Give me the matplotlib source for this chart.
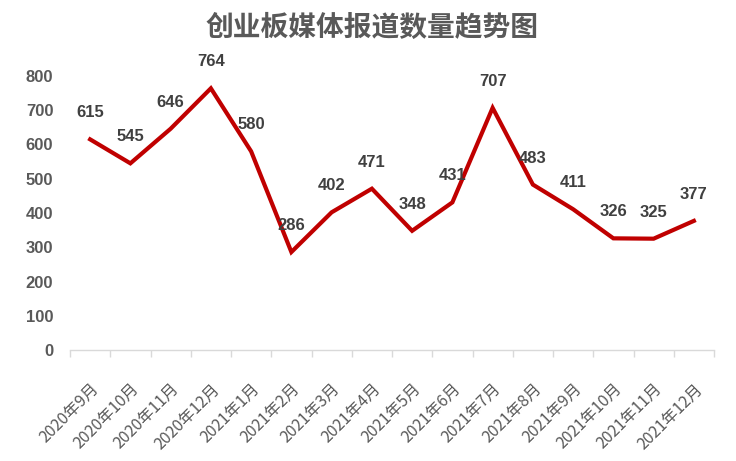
import matplotlib
matplotlib.use("Agg")
import matplotlib.pyplot as plt

plt.rcParams['font.family'] = ['Noto Sans CJK SC', 'DejaVu Sans']

months = ['2020年9月', '2020年10月', '2020年11月', '2020年12月',
          '2021年1月', '2021年2月', '2021年3月', '2021年4月',
          '2021年5月', '2021年6月', '2021年7月', '2021年8月',
          '2021年9月', '2021年10月', '2021年11月', '2021年12月']
counts = [615, 545, 646, 764, 580, 286, 402, 471,
          348, 431, 707, 483, 411, 326, 325, 377]
yticks = [0, 100, 200, 300, 400, 500, 600, 700, 800]

fig = plt.figure(figsize=(7.36, 4.61), dpi=100)
ax = fig.add_axes([70/736, 1 - 350/461, 644/736, 274/461])

x = list(range(len(months)))
ax.plot(x, counts, color='#C00000', linewidth=3, solid_joinstyle='miter', zorder=3)

for xi, v in zip(x, counts):
    ax.annotate(str(v), (xi, v), xytext=(0, 19), textcoords='offset points',
                ha='center', va='center', fontsize=12, fontweight='bold',
                color='#404040', family=['Liberation Sans', 'DejaVu Sans'],
                annotation_clip=False)

ax.set_xlim(-0.5, len(months) - 0.5)
ax.set_ylim(0, 800)
ax.set_yticks(yticks)
ax.set_yticklabels([str(t) for t in yticks], fontsize=12, fontweight='bold',
                   color='#595959', family=['Liberation Sans', 'DejaVu Sans'])
ax.tick_params(axis='y', length=0, pad=12)

ax.set_xticks([i - 0.5 for i in range(len(months) + 1)], minor=False)
ax.set_xticklabels([])
ax.set_xticks(x, minor=True)
ax.set_xticklabels(months, minor=True, rotation=45, ha='right',
                   rotation_mode='anchor', fontsize=11.5, color='#595959')
ax.tick_params(axis='x', which='major', length=5, color='#D9D9D9', width=1)
ax.tick_params(axis='x', which='minor', length=0, pad=22)

for s in ['top', 'right', 'left']:
    ax.spines[s].set_visible(False)
ax.spines['bottom'].set_color('#D9D9D9')
ax.spines['bottom'].set_linewidth(1)

fig.text(0.505, 1 - 28/461, '创业板媒体报道数量趋势图', ha='center', va='center',
         fontsize=20, fontweight='bold', color='#595959')

fig.savefig('out.png', dpi=100)
